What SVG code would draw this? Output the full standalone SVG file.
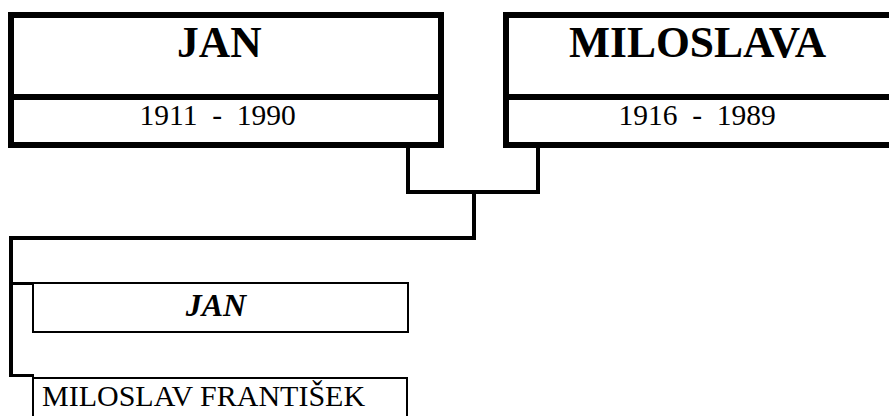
<svg xmlns="http://www.w3.org/2000/svg" width="889" height="416" viewBox="0 0 889 416">
<style>
.box{fill:#fff;stroke:#000;stroke-width:6}
.div{stroke:#000;stroke-width:6}
.cbox{fill:#fff;stroke:#000;stroke-width:2}
.conn{fill:none;stroke:#000;stroke-width:4}
.stub{fill:none;stroke:#000;stroke-width:3}
.name{font-family:"Liberation Serif","Times New Roman",serif;font-weight:bold;font-size:43.5px;fill:#000}
.date{font-family:"Liberation Serif","Times New Roman",serif;font-size:29.5px;fill:#000}
.cname{font-family:"Liberation Serif","Times New Roman",serif;font-weight:bold;font-style:italic;font-size:32px;fill:#000}
.ctext{font-family:"Liberation Serif","Times New Roman",serif;font-size:30px;fill:#000}
</style>
<rect width="889" height="416" fill="#fff"/>
<g id="connectors">
<polyline class="conn" points="408,148 408,192 538,192 538,148"/>
<polyline class="conn" points="474,192 474,238 11,238 11,377"/>
<line class="stub" x1="11" y1="283.5" x2="34" y2="283.5"/>
<line class="stub" x1="11" y1="375.5" x2="34" y2="375.5"/>
</g>
<g id="node-jan">
<rect class="box" x="11" y="15" width="430" height="130"/>
<line class="div" x1="11" y1="97" x2="441" y2="97"/>
<text class="name" x="177" y="57">JAN</text>
<text class="date" x="139.5" y="125" xml:space="preserve">1911  -  1990</text>
</g>
<g id="node-miloslava">
<rect class="box" x="506" y="15" width="440" height="130"/>
<line class="div" x1="506" y1="97" x2="946" y2="97"/>
<text class="name" x="569" y="57">MILOSLAVA</text>
<text class="date" x="618.5" y="125" xml:space="preserve">1916  -  1989</text>
</g>
<g id="node-child-jan">
<rect class="cbox" x="33" y="283" width="375" height="49"/>
<text class="cname" x="216" y="316" text-anchor="middle">JAN</text>
</g>
<g id="node-child-miloslav">
<rect class="cbox" x="33" y="378" width="374" height="60"/>
<text class="ctext" x="42" y="406">MILOSLAV FRANTIŠEK</text>
</g>
</svg>
